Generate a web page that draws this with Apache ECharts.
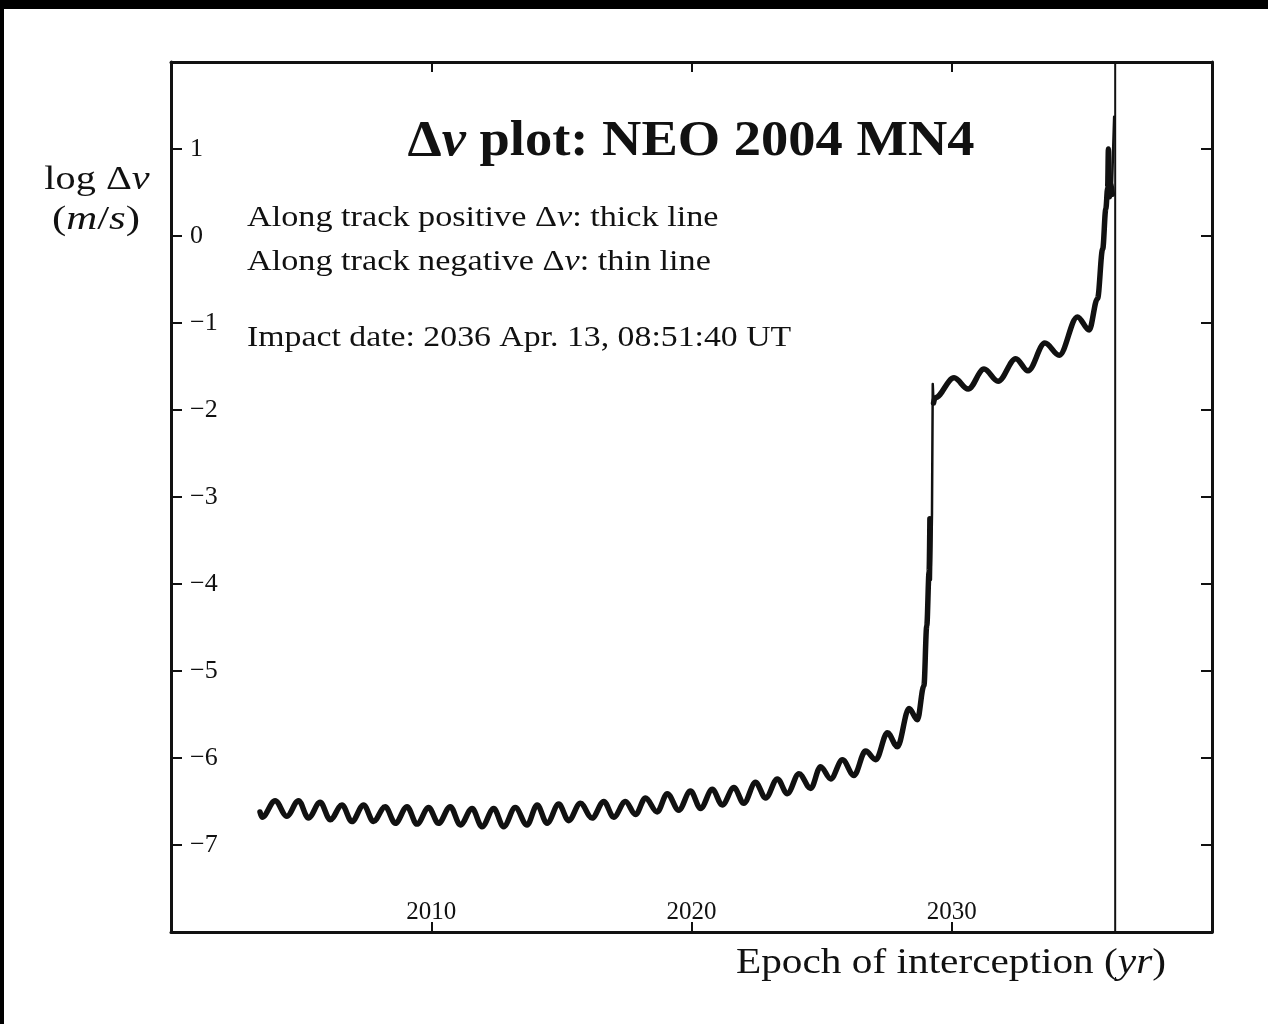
<!DOCTYPE html>
<html>
<head>
<meta charset="utf-8">
<script src="https://cdn.jsdelivr.net/npm/echarts@6/dist/echarts.min.js"></script>
<style>
  html, body { margin: 0; padding: 0; background: #000; width: 1268px; height: 1024px; overflow: hidden; }
  #chart { position: absolute; left: 4px; top: 9px; width: 1264px; height: 1015px; background: #fff; }
</style>
</head>
<body>
<div id="chart"></div>
<script>
// ---- data ----
const xRange = [2000, 2040];
const yRange = [-8, 2];
const xInterval = 10;
const yInterval = 1;

// Along-track positive Δv (thick line), before the 2029 close approach
const thickBefore = [
  [2003.42, -6.62], [2003.50, -6.68], [2004.00, -6.49], [2004.45, -6.67],
  [2004.90, -6.49], [2005.28, -6.69], [2005.73, -6.51], [2006.12, -6.71],
  [2006.57, -6.54], [2006.95, -6.73], [2007.40, -6.54], [2007.78, -6.73],
  [2008.23, -6.56], [2008.62, -6.75], [2009.07, -6.56], [2009.45, -6.76],
  [2009.90, -6.57], [2010.28, -6.75], [2010.73, -6.56], [2011.12, -6.77],
  [2011.57, -6.58], [2011.95, -6.79], [2012.40, -6.58], [2012.78, -6.79],
  [2013.23, -6.57], [2013.68, -6.77], [2014.07, -6.54], [2014.45, -6.75],
  [2014.90, -6.53], [2015.28, -6.72], [2015.73, -6.52], [2016.18, -6.69],
  [2016.63, -6.50], [2017.01, -6.68], [2017.46, -6.50], [2017.85, -6.65],
  [2018.23, -6.46], [2018.68, -6.62], [2019.07, -6.41], [2019.51, -6.60],
  [2019.96, -6.38], [2020.35, -6.58], [2020.80, -6.36], [2021.18, -6.54],
  [2021.63, -6.34], [2022.01, -6.52], [2022.46, -6.28], [2022.85, -6.46],
  [2023.30, -6.24], [2023.68, -6.41], [2024.13, -6.18], [2024.58, -6.35],
  [2024.96, -6.10], [2025.35, -6.24], [2025.80, -6.02], [2026.24, -6.20],
  [2026.69, -5.92], [2027.08, -6.02], [2027.53, -5.71], [2027.91, -5.87],
  [2028.36, -5.43], [2028.68, -5.56], [2028.93, -5.17], [2029.04, -4.48],
  [2029.13, -3.86], [2029.16, -3.25]
];

// Along-track positive Δv (thick line), after the 2029 close approach
const thickAfter = [
  [2029.30, -1.92], [2029.36, -1.86], [2030.09, -1.63], [2030.63, -1.76],
  [2031.24, -1.53], [2031.78, -1.67], [2032.46, -1.41], [2032.93, -1.55],
  [2033.58, -1.23], [2034.13, -1.37], [2034.83, -0.93], [2035.28, -1.08],
  [2035.60, -0.72], [2035.80, -0.15], [2035.92, 0.31], [2035.99, 0.55],
  [2036.02, 1.00], [2036.06, 0.45], [2036.12, 0.60], [2036.17, 0.48]
];

// Along-track negative Δv (thin line) where it shows apart from the thick one
const thinJump = [[2029.20, -3.95], [2029.24, -3.20], [2029.27, -1.70], [2029.30, -1.92]];
const thinSpike = [[2036.15, 0.50], [2036.24, 1.37]];

// impact epoch: 2036 Apr. 13
const impactEpoch = 2036.28;
const impactLine = [[impactEpoch, yRange[0]], [impactEpoch, yRange[1]]];

// ---- chart ----
const SERIF = '"Liberation Serif", "Times New Roman", serif';
const INK = '#111';
const chart = echarts.init(document.getElementById('chart'));

const baseX = {
  type: 'value', min: xRange[0], max: xRange[1], interval: xInterval,
  axisLine: { show: true, onZero: false, lineStyle: { color: INK, width: 3 } },
  axisTick: { show: true, inside: true, length: 10, lineStyle: { color: INK, width: 2 } },
  splitLine: { show: false }
};
const baseY = {
  type: 'value', min: yRange[0], max: yRange[1], interval: yInterval,
  axisLine: { show: true, onZero: false, lineStyle: { color: INK, width: 3 } },
  axisTick: { show: true, inside: true, length: 11, lineStyle: { color: INK, width: 2 } },
  splitLine: { show: false }
};

const thickStyle = { color: INK, width: 5.5, cap: 'round', join: 'round' };
const thinStyle = { color: INK, width: 2.5, cap: 'round', join: 'round' };

function rt(size) {
  return {
    n: { fontFamily: SERIF, fontSize: size, fill: INK, color: INK },
    i: { fontFamily: SERIF, fontSize: size, fontStyle: 'italic', fill: INK, color: INK }
  };
}

chart.setOption({
  animation: false,
  backgroundColor: '#fff',
  grid: { left: 167, top: 53, right: 56, bottom: 92, containLabel: false },
  xAxis: [
    Object.assign({}, baseX, {
      position: 'bottom',
      axisLabel: { inside: true, margin: 7, showMinLabel: false, showMaxLabel: false,
        fontFamily: SERIF, fontSize: 25, color: INK, formatter: v => String(v) }
    }),
    Object.assign({}, baseX, { position: 'top', axisLabel: { show: false } })
  ],
  yAxis: [
    Object.assign({}, baseY, {
      position: 'left',
      axisLabel: { inside: true, margin: 19, showMinLabel: false, showMaxLabel: false,
        fontFamily: SERIF, fontSize: 26, color: INK,
        formatter: v => String(v).replace('-', '\u2212') }
    }),
    Object.assign({}, baseY, { position: 'right', axisLabel: { show: false } })
  ],
  series: [
    { type: 'line', name: 'positive (before)', data: thickBefore, showSymbol: false, symbol: 'none',
      smooth: 0.35, smoothMonotone: 'x', lineStyle: thickStyle, z: 3 },
    { type: 'line', name: 'positive (after)', data: thickAfter, showSymbol: false, symbol: 'none',
      smooth: 0.35, smoothMonotone: 'x', lineStyle: thickStyle, z: 3 },
    { type: 'line', name: 'negative jump', data: thinJump, showSymbol: false, symbol: 'none',
      lineStyle: thinStyle, z: 4 },
    { type: 'line', name: 'negative spike', data: thinSpike, showSymbol: false, symbol: 'none',
      lineStyle: thinStyle, z: 4 },
    { type: 'line', name: 'impact', data: impactLine, showSymbol: false, symbol: 'none',
      lineStyle: { color: INK, width: 2 }, z: 2 }
  ],
  graphic: [
    { type: 'text', x: 687, y: 133, scaleX: 1.09, z: 10, style: {
        text: '{b|Δ}{i|v}{b| plot: NEO 2004 MN4}', align: 'center', verticalAlign: 'middle',
        rich: {
          b: { fontFamily: SERIF, fontSize: 50, fontWeight: 'bold', fill: INK, color: INK },
          i: { fontFamily: SERIF, fontSize: 50, fontWeight: 'bold', fontStyle: 'italic', fill: INK, color: INK }
        } } },
    { type: 'text', x: 243, y: 209, scaleX: 1.18, z: 10, style: {
        text: '{n|Along track positive Δ}{i|v}{n|: thick line}', align: 'left', verticalAlign: 'middle',
        rich: rt(29) } },
    { type: 'text', x: 243, y: 253, scaleX: 1.18, z: 10, style: {
        text: '{n|Along track negative Δ}{i|v}{n|: thin line}', align: 'left', verticalAlign: 'middle',
        rich: rt(29) } },
    { type: 'text', x: 243, y: 329, scaleX: 1.165, z: 10, style: {
        text: '{n|Impact date: 2036 Apr. 13, 08:51:40 UT}', align: 'left', verticalAlign: 'middle',
        rich: rt(29) } },
    { type: 'text', x: 93, y: 171, scaleX: 1.22, z: 10, style: {
        text: '{n|log Δ}{i|v}', align: 'center', verticalAlign: 'middle', rich: rt(33) } },
    { type: 'text', x: 92, y: 211, scaleX: 1.3, z: 10, style: {
        text: '{n|(}{i|m}{n|/}{i|s}{n|)}', align: 'center', verticalAlign: 'middle', rich: rt(33) } },
    { type: 'text', x: 1162, y: 955, scaleX: 1.18, z: 10, style: {
        text: '{n|Epoch of interception (}{i|yr}{n|)}', align: 'right', verticalAlign: 'middle',
        rich: rt(35) } }
  ]
});
</script>
</body>
</html>
